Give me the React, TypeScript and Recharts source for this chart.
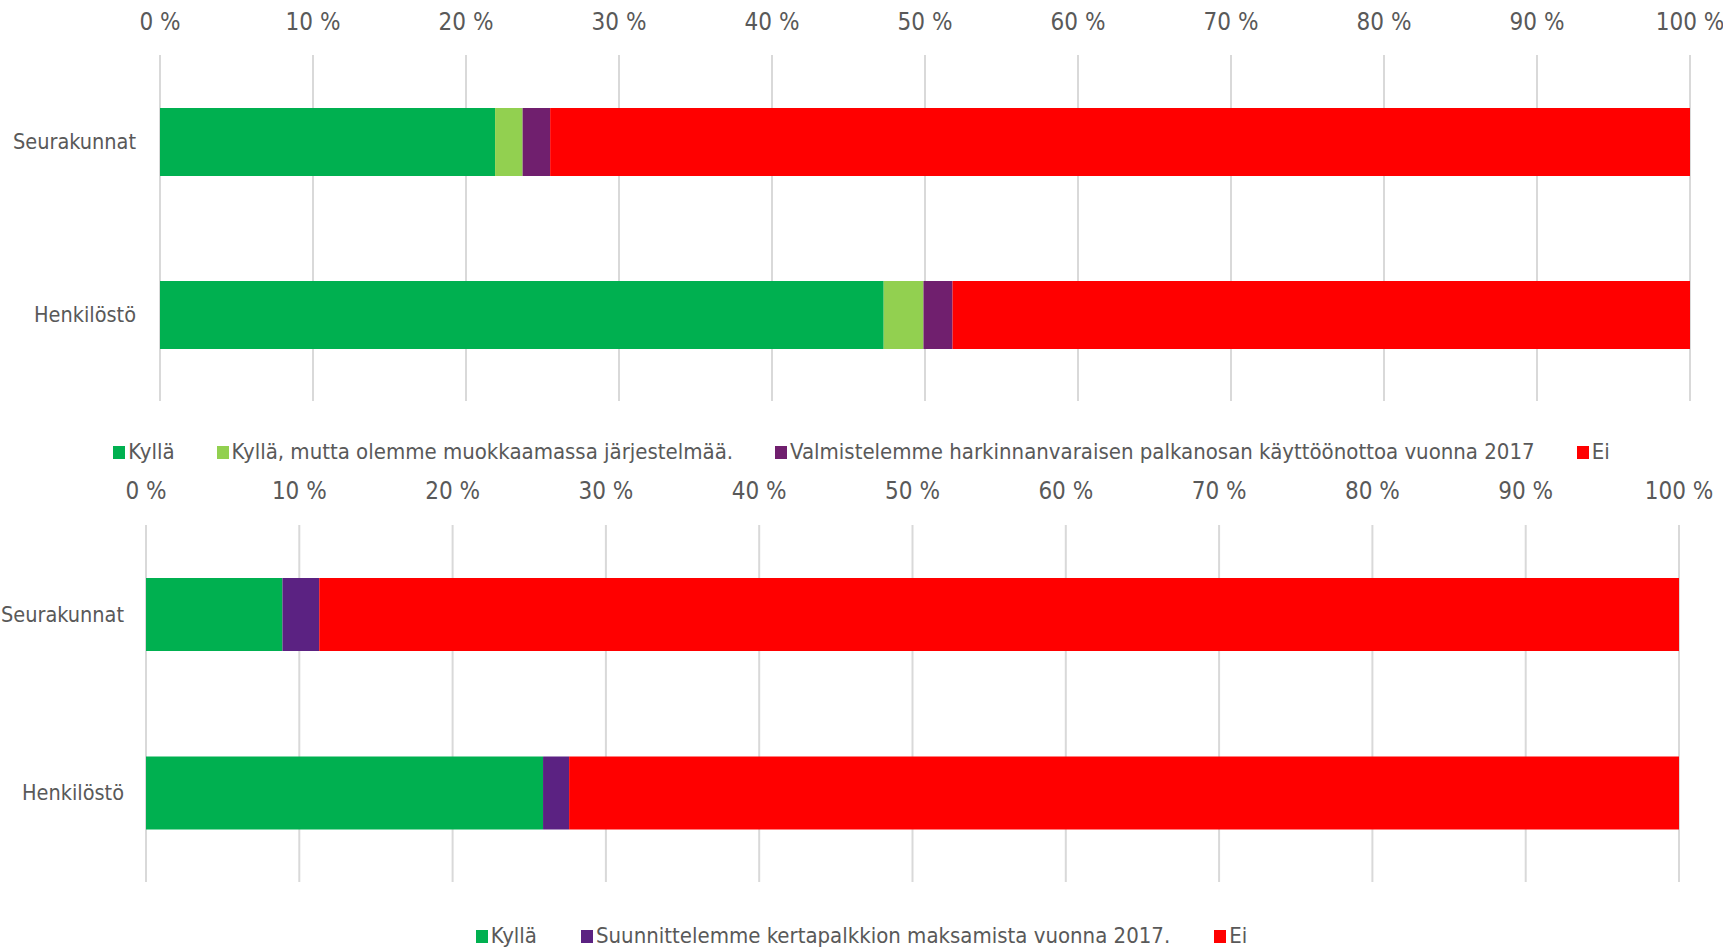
import { BarChart, Bar, XAxis, YAxis, CartesianGrid, Legend } from 'recharts';

const categories = ['Seurakunnat', 'Henkilöstö'];
const ticks = [0, 10, 20, 30, 40, 50, 60, 70, 80, 90, 100];

// upper chart
const topNames = [
  'Kyllä',
  'Kyllä, mutta olemme muokkaamassa järjestelmää.',
  'Valmistelemme harkinnanvaraisen palkanosan käyttöönottoa vuonna 2017',
  'Ei',
];
const topKylla = [21.9, 47.3];
const topMuokkaus = [1.8, 2.6];
const topValmistelu = [1.8, 1.9];
const topEi = [74.5, 48.2];

// lower chart
const lowNames = ['Kyllä', 'Suunnittelemme kertapalkkion maksamista vuonna 2017.', 'Ei'];
const lowKylla = [8.9, 25.9];
const lowSuunnitelma = [2.4, 1.7];
const lowEi = [88.7, 72.4];

const FONT = '"Liberation Sans Narrow", "DejaVu Sans Condensed", "Open Sans", sans-serif';
const TEXT = '#595959';
const GRID = '#d9d9d9';

const topData = categories.map((name, i) => ({
  name,
  kylla: topKylla[i],
  muokkaus: topMuokkaus[i],
  valmistelu: topValmistelu[i],
  ei: topEi[i],
}));

const lowData = categories.map((name, i) => ({
  name,
  kylla: lowKylla[i],
  suunnitelma: lowSuunnitelma[i],
  ei: lowEi[i],
}));

const xTick = { fill: TEXT, fontSize: 24, fontFamily: FONT };
const yTick = { fill: TEXT, fontSize: 21.5, fontFamily: FONT };

// legend keeps the series order (recharts sorts by name otherwise)
const legendContent = (order: string[], gap: number, padTop: number, height: number) => (props: any) => {
  const items = [...(props.payload || [])].sort((a: any, b: any) => order.indexOf(a.value) - order.indexOf(b.value));
  return (
    <div
      style={{
        display: 'flex',
        justifyContent: 'center',
        gap,
        boxSizing: 'border-box',
        height,
        paddingTop: padTop,
        lineHeight: '26px',
        fontFamily: FONT,
        fontSize: 22,
        color: TEXT,
      }}
    >
      {items.map((p: any) => (
        <span key={p.value} style={{ display: 'flex', alignItems: 'center', whiteSpace: 'nowrap' }}>
          <span style={{ width: 12, height: 13, background: p.color, marginRight: 3, display: 'inline-block' }} />
          {p.value}
        </span>
      ))}
    </div>
  );
};

export default function App() {
  return (
    <div style={{ position: 'absolute', left: 0, top: 0, width: 1723, height: 951, background: '#fff' }}>
      <BarChart width={1723} height={470} data={topData} layout="vertical" margin={{ top: 0, right: 33, bottom: 5, left: 0 }}>
        <CartesianGrid horizontal={false} stroke={GRID} strokeWidth={2} />
        <XAxis
          type="number"
          orientation="top"
          domain={[0, 100]}
          ticks={ticks}
          height={55}
          tickMargin={19}
          axisLine={false}
          tickLine={false}
          tick={xTick}
          tickFormatter={(v) => `${v} %`}
          interval={0}
        />
        <YAxis type="category" dataKey="name" width={160} tickMargin={18} axisLine={false} tickLine={false} tick={yTick} />
        <Legend verticalAlign="bottom" wrapperStyle={{ left: 0, width: 1723 }} content={legendContent(topNames, 42, 38, 64)} />
        <Bar dataKey="kylla" name={topNames[0]} stackId="a" fill="#00b050" barSize={68} isAnimationActive={false} />
        <Bar dataKey="muokkaus" name={topNames[1]} stackId="a" fill="#92d050" barSize={68} isAnimationActive={false} />
        <Bar dataKey="valmistelu" name={topNames[2]} stackId="a" fill="#701f6e" barSize={68} isAnimationActive={false} />
        <Bar dataKey="ei" name={topNames[3]} stackId="a" fill="#ff0000" barSize={68} isAnimationActive={false} />
      </BarChart>
      <BarChart width={1723} height={481} data={lowData} layout="vertical" margin={{ top: 0, right: 44, bottom: 2, left: 0 }}>
        <CartesianGrid horizontal={false} stroke={GRID} strokeWidth={2} />
        <XAxis
          type="number"
          orientation="top"
          domain={[0, 100]}
          ticks={ticks}
          height={55}
          tickMargin={20}
          axisLine={false}
          tickLine={false}
          tick={xTick}
          tickFormatter={(v) => `${v} %`}
          interval={0}
        />
        <YAxis type="category" dataKey="name" width={146} tickMargin={16} axisLine={false} tickLine={false} tick={yTick} />
        <Legend verticalAlign="bottom" wrapperStyle={{ left: 0, width: 1723 }} content={legendContent(lowNames, 44, 41, 67)} />
        <Bar dataKey="kylla" name={lowNames[0]} stackId="b" fill="#00b050" barSize={73} isAnimationActive={false} />
        <Bar dataKey="suunnitelma" name={lowNames[1]} stackId="b" fill="#5b2282" barSize={73} isAnimationActive={false} />
        <Bar dataKey="ei" name={lowNames[2]} stackId="b" fill="#ff0000" barSize={73} isAnimationActive={false} />
      </BarChart>
    </div>
  );
}
